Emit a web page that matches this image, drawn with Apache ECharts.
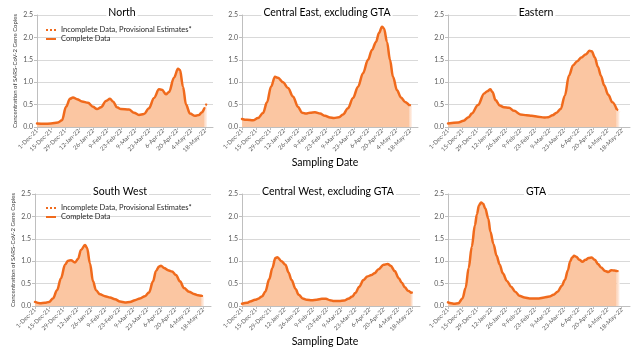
<!DOCTYPE html>
<html>
<head>
<meta charset="utf-8">
<script src="https://cdn.jsdelivr.net/npm/echarts@6/dist/echarts.min.js"></script>
<style>
  html, body { margin: 0; padding: 0; background: #ffffff; }
  #chart { width: 640px; height: 349px; }
</style>
</head>
<body>
<div id="chart"></div>
<script>
// Wastewater SARS-CoV-2 signal by Ontario region.
// Days are counted from 1 Dec 2021; the last sample of every region is a provisional estimate.
const regionTitles = ['North', 'Central East, excluding GTA', 'Eastern', 'South West', 'Central West, excluding GTA', 'GTA'];
const tickEveryDays = 14;
const lastAxisDay = 176;
const yTicks = [0, 0.5, 1.0, 1.5, 2.0, 2.5];

const northDays   = [0, 7, 14, 21, 25, 29, 33, 36, 40, 45, 51, 56, 60, 64, 69, 73, 76, 80, 84, 92, 97, 102, 107, 112, 117, 122, 125, 129, 132, 137, 141, 143, 146, 149, 153, 158, 162, 165, 167, 170];
const northValues = [0.08, 0.07, 0.08, 0.1, 0.15, 0.45, 0.63, 0.66, 0.62, 0.57, 0.54, 0.45, 0.4, 0.44, 0.58, 0.63, 0.57, 0.44, 0.4, 0.39, 0.32, 0.27, 0.29, 0.42, 0.65, 0.84, 0.83, 0.73, 0.78, 1.1, 1.3, 1.27, 0.9, 0.5, 0.3, 0.25, 0.27, 0.33, 0.4, 0.54];

const centralEastDays   = [0, 5, 11, 16, 21, 25, 29, 33, 36, 41, 46, 51, 56, 60, 64, 68, 73, 78, 83, 88, 92, 97, 101, 106, 111, 116, 121, 126, 130, 134, 137, 140, 142, 145, 148, 151, 155, 159, 163, 167, 170];
const centralEastValues = [0.18, 0.16, 0.15, 0.2, 0.31, 0.55, 0.9, 1.12, 1.1, 1.0, 0.87, 0.68, 0.45, 0.32, 0.3, 0.32, 0.33, 0.3, 0.25, 0.21, 0.2, 0.22, 0.28, 0.42, 0.65, 0.9, 1.2, 1.5, 1.72, 1.9, 2.1, 2.24, 2.2, 1.9, 1.5, 1.12, 0.82, 0.66, 0.56, 0.49, 0.48];

const easternDays   = [0, 10, 15, 20, 23, 29, 35, 38, 41, 43, 46, 50, 54, 59, 64, 70, 76, 81, 87, 93, 97, 101, 105, 109, 113, 117, 121, 125, 129, 133, 137, 139, 142, 145, 148, 151, 155, 159, 163, 166];
const easternValues = [0.08, 0.1, 0.14, 0.22, 0.3, 0.49, 0.75, 0.8, 0.84, 0.78, 0.6, 0.48, 0.44, 0.43, 0.36, 0.28, 0.26, 0.25, 0.23, 0.21, 0.22, 0.26, 0.32, 0.4, 0.7, 1.15, 1.38, 1.47, 1.55, 1.62, 1.7, 1.69, 1.55, 1.34, 1.14, 0.93, 0.72, 0.55, 0.4, 0.34];

const southWestDays   = [0, 5, 10, 14, 18, 22, 26, 30, 33, 36, 40, 43, 46, 50, 52, 55, 58, 61, 65, 70, 75, 80, 85, 90, 95, 100, 105, 110, 114, 118, 121, 124, 126, 129, 133, 137, 141, 145, 149, 154, 159, 163, 166, 169];
const southWestValues = [0.09, 0.06, 0.07, 0.09, 0.17, 0.35, 0.62, 0.92, 1.01, 1.02, 0.97, 1.05, 1.25, 1.36, 1.3, 0.95, 0.55, 0.35, 0.26, 0.22, 0.19, 0.15, 0.1, 0.08, 0.09, 0.13, 0.17, 0.22, 0.3, 0.55, 0.78, 0.88, 0.9, 0.85, 0.8, 0.77, 0.69, 0.55, 0.4, 0.32, 0.27, 0.24, 0.23, 0.22];

const centralWestDays   = [0, 5, 8, 13, 16, 20, 23, 27, 30, 33, 35, 39, 43, 46, 49, 53, 56, 60, 64, 69, 74, 79, 83, 87, 91, 96, 101, 105, 109, 112, 116, 120, 124, 128, 131, 135, 140, 144, 147, 151, 155, 158, 161, 164, 167, 169];
const centralWestValues = [0.05, 0.07, 0.1, 0.14, 0.16, 0.22, 0.32, 0.6, 0.85, 1.07, 1.09, 1.0, 0.92, 0.75, 0.58, 0.38, 0.25, 0.17, 0.14, 0.13, 0.14, 0.16, 0.16, 0.13, 0.11, 0.11, 0.12, 0.16, 0.21, 0.29, 0.43, 0.58, 0.66, 0.69, 0.73, 0.82, 0.92, 0.94, 0.9, 0.78, 0.62, 0.52, 0.42, 0.34, 0.3, 0.3];

const gtaDays   = [0, 3, 6, 10, 14, 17, 20, 23, 26, 28, 30, 32, 34, 36, 39, 41, 44, 47, 50, 53, 57, 61, 65, 69, 74, 79, 84, 88, 93, 98, 102, 106, 110, 113, 116, 118, 120, 122, 124, 127, 130, 133, 136, 139, 142, 145, 148, 152, 155, 158, 161, 163, 166];
const gtaValues = [0.08, 0.06, 0.05, 0.06, 0.17, 0.4, 0.85, 1.32, 1.8, 2.05, 2.25, 2.31, 2.28, 2.18, 1.95, 1.66, 1.38, 1.12, 0.92, 0.73, 0.56, 0.43, 0.32, 0.23, 0.19, 0.17, 0.17, 0.17, 0.19, 0.21, 0.25, 0.32, 0.45, 0.58, 0.8, 0.99, 1.08, 1.12, 1.1, 1.03, 0.99, 1.03, 1.07, 1.08, 1.03, 0.94, 0.86, 0.78, 0.76, 0.8, 0.79, 0.78, 0.78];

const regionDays   = [northDays, centralEastDays, easternDays, southWestDays, centralWestDays, gtaDays];
const regionValues = [northValues, centralEastValues, easternValues, southWestValues, centralWestValues, gtaValues];

// Plot boxes, two rows of three
const boxes = [
  { left: 37,  top: 15,  width: 176 },
  { left: 242, top: 15,  width: 176 },
  { left: 448, top: 15,  width: 182 },
  { left: 35,  top: 194, width: 176 },
  { left: 242, top: 194, width: 178 },
  { left: 448, top: 194, width: 182 }
];
const boxHeight = 112;

const LINE = '#f06a1c';
const FILL = '#fbc6a2';
const FONT = 'Lato, "Open Sans", "Liberation Sans", sans-serif';
const MONTHS = ['Jan', 'Feb', 'Mar', 'Apr', 'May', 'Jun', 'Jul', 'Aug', 'Sep', 'Oct', 'Nov', 'Dec'];

function dayLabel(d) {
  if (d % tickEveryDays !== 0) return '';
  const t = new Date(2021, 11, 1 + d);
  return t.getDate() + '-' + MONTHS[t.getMonth()] + '-' + String(t.getFullYear()).slice(2);
}

const COMPLETE = 'Complete Data';
const PROVISIONAL = 'Incomplete Data, Provisional Estimates*';

const grids = [], xAxes = [], yAxes = [], series = [], graphics = [];

boxes.forEach((b, i) => {
  grids.push({ left: b.left, top: b.top, width: b.width, height: boxHeight, containLabel: false, outerBoundsMode: 'none' });
  xAxes.push({
    type: 'value', gridIndex: i, min: 0, max: lastAxisDay, interval: tickEveryDays,
    axisLine: { show: true, lineStyle: { color: '#bfbfbf', width: 1 } },
    axisTick: { show: true, length: 3, lineStyle: { color: '#bfbfbf' } },
    splitLine: { show: false },
    axisLabel: { rotate: 45, fontSize: 6, color: '#595959', margin: 3, fontFamily: FONT, hideOverlap: false, formatter: dayLabel, showMaxLabel: false }
  });
  const leftCol = (i === 0 || i === 3);
  yAxes.push({
    type: 'value', gridIndex: i, min: yTicks[0], max: yTicks[yTicks.length - 1], interval: 0.5,
    axisLine: { show: true, lineStyle: { color: '#bfbfbf', width: 1 } },
    axisTick: { show: true, length: 3, lineStyle: { color: '#bfbfbf' } },
    splitLine: { show: true, lineStyle: { color: '#d9d9d9', width: 1 } },
    axisLabel: { fontSize: 7, color: '#595959', margin: 4, fontFamily: FONT, formatter: v => v.toFixed(1) },
    name: leftCol ? 'Concentration of SARS-CoV-2 Gene Copies' : '',
    nameLocation: 'middle', nameGap: 19, nameRotate: 90,
    nameTextStyle: { fontSize: 6, color: '#404040', fontFamily: FONT }
  });

  const days = regionDays[i], vals = regionValues[i];
  const pts = days.map((d, k) => [d, vals[k]]);
  const complete = pts.slice(0, pts.length - 1);
  const tail = pts.slice(pts.length - 2);

  series.push({
    name: COMPLETE, type: 'line', xAxisIndex: i, yAxisIndex: i,
    data: complete, smooth: 0.35, smoothMonotone: 'x', symbol: 'none', color: LINE,
    lineStyle: { color: LINE, width: 2.5, cap: 'round', join: 'round' },
    areaStyle: { color: FILL, opacity: 1 },
    z: 3, animation: false
  });
  series.push({
    name: PROVISIONAL, type: 'line', xAxisIndex: i, yAxisIndex: i,
    data: tail, symbol: 'none', color: LINE,
    lineStyle: { color: LINE, width: 2, type: [2, 2] },
    areaStyle: {
      opacity: 1,
      color: new echarts.graphic.LinearGradient(0, 0, 1, 0, [
        { offset: 0, color: '#fcd3b8' },
        { offset: 1, color: '#fff4ee' }
      ])
    },
    z: 2, animation: false
  });

  const cx = b.left + b.width / 2;
  graphics.push({
    type: 'text', x: cx - 3, y: b.top - 2, z: 10,
    style: { text: regionTitles[i], font: '10.5px ' + FONT, fill: '#000000', align: 'center', verticalAlign: 'middle', backgroundColor: '#ffffff', padding: [1, 2] }
  });
});

graphics.push({ type: 'text', x: 325, y: 163, style: { text: 'Sampling Date', font: '10.5px ' + FONT, fill: '#000000', align: 'center', verticalAlign: 'middle' } });
graphics.push({ type: 'text', x: 325, y: 342, style: { text: 'Sampling Date', font: '10.5px ' + FONT, fill: '#000000', align: 'center', verticalAlign: 'middle' } });

// Legend keys: a dotted stroke for provisional estimates, a solid stroke for complete data
const DOTTED_KEY = 'path://M0,0h2v2h-2z M4,0h2v2h-2z M8,0h2v2h-2z';
const SOLID_KEY = 'path://M0,0h10v2h-10z';

const legendBase = {
  orient: 'vertical', itemWidth: 10, itemHeight: 2.5, itemGap: 1,
  textStyle: { fontSize: 7.5, color: '#262626', fontFamily: FONT },
  itemStyle: { color: LINE, borderWidth: 0 },
  data: [
    { name: PROVISIONAL, icon: DOTTED_KEY },
    { name: COMPLETE, icon: SOLID_KEY }
  ],
  selectedMode: false
};

const chart = echarts.init(document.getElementById('chart'), null, { renderer: 'canvas' });
chart.setOption({
  animation: false,
  textStyle: { fontFamily: FONT },
  grid: grids,
  xAxis: xAxes,
  yAxis: yAxes,
  series: series,
  legend: [
    Object.assign({}, legendBase, { left: 41, top: 21 }),
    Object.assign({}, legendBase, { left: 41, top: 199 })
  ],
  graphic: graphics
});
</script>
</body>
</html>
